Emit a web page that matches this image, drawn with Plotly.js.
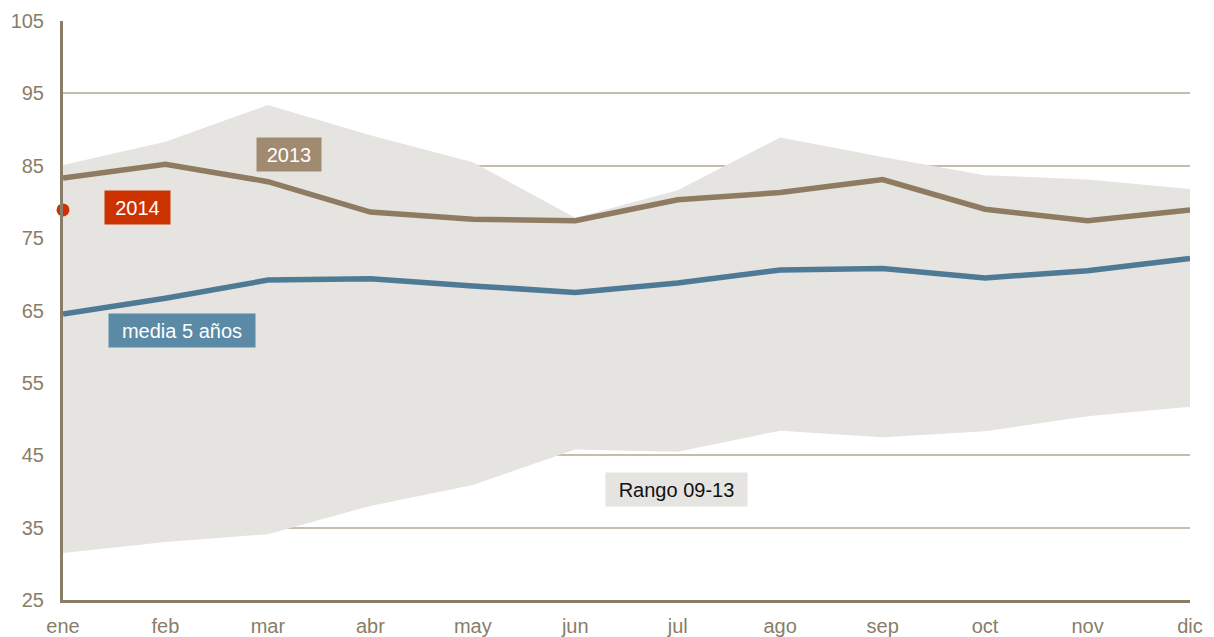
<!DOCTYPE html>
<html>
<head>
<meta charset="utf-8">
<script src="https://cdn.plot.ly/plotly-3.0.1.min.js"></script>
<style>html,body{margin:0;padding:0;background:#fff;}#chart{width:1214px;height:637px;}</style>
</head>
<body>
<div id="chart"></div>
<script>
const months = ["ene","feb","mar","abr","may","jun","jul","ago","sep","oct","nov","dic"];
const rangeMax = [85.1, 88.3, 93.4, 89.2, 85.5, 77.8, 81.6, 88.9, 86.2, 83.7, 83.1, 81.8];
const rangeMin = [31.5, 33.0, 34.1, 38.0, 40.9, 45.8, 45.5, 48.4, 47.5, 48.3, 50.4, 51.7];
const serie2013 = [83.3, 85.2, 82.8, 78.6, 77.6, 77.4, 80.3, 81.3, 83.1, 79.0, 77.4, 78.9];
const media5 = [64.5, 66.7, 69.2, 69.4, 68.4, 67.5, 68.8, 70.6, 70.8, 69.5, 70.5, 72.2];
const months2014 = ["ene"];
const serie2014 = [78.9];
const yTicks = [25, 35, 45, 55, 65, 75, 85, 95, 105];

const axisColor = "#8a7d68";
const font = "Liberation Sans, Arial, sans-serif";

const traces = [
  {x: months, y: rangeMin, type: "scatter", mode: "lines", line: {width: 0, color: "rgba(0,0,0,0)"}, hoverinfo: "skip", showlegend: false},
  {x: months, y: rangeMax, type: "scatter", mode: "lines", fill: "tonexty", fillcolor: "#e6e4e0", line: {width: 0, color: "rgba(0,0,0,0)"}, showlegend: false},
  {x: months, y: serie2013, type: "scatter", mode: "lines", line: {color: "#8f7b62", width: 5.5}, showlegend: false},
  {x: months, y: media5, type: "scatter", mode: "lines", line: {color: "#4e7a96", width: 5.5}, showlegend: false},
  {x: months2014, y: serie2014, type: "scatter", mode: "markers", marker: {color: "#cc3300", size: 13}, cliponaxis: false, showlegend: false}
];

function box(text, x, y, w, bg, fc) {
  return {text: text, x: x, y: y, xref: "x", yref: "y", showarrow: false,
    bgcolor: bg, width: w, height: 33, borderpad: 0,
    font: {family: font, size: 20, color: fc}, xanchor: "center", yanchor: "middle"};
}

const layout = {
  width: 1214, height: 637,
  margin: {l: 63, r: 24, t: 21, b: 37},
  paper_bgcolor: "#fff", plot_bgcolor: "#fff",
  font: {family: font, size: 20, color: axisColor},
  xaxis: {
    type: "category", categoryorder: "array", categoryarray: months,
    range: [0, 11], showgrid: false, zeroline: false,
    showline: true, linecolor: axisColor, linewidth: 3,
    ticks: "", ticklabelstandoff: 6, tickfont: {family: font, size: 20, color: axisColor},
    fixedrange: true
  },
  yaxis: {
    range: [25, 105], tickvals: yTicks, ticktext: yTicks.map(String),
    showgrid: true, gridcolor: "#c5bdae", gridwidth: 2,
    zeroline: false, showline: true, linecolor: axisColor, linewidth: 3,
    ticks: "", ticklabelstandoff: 12,
    tickfont: {family: font, size: 20, color: axisColor},
    fixedrange: true
  },
  annotations: [
    box("2013", 2.21, 86.6, 64, "#a08a70", "#ffffff"),
    box("2014", 0.727, 79.2, 65, "#cc3300", "#ffffff"),
    box("media 5 años", 1.16, 62.2, 146, "#5b8aa7", "#ffffff"),
    box("Rango 09-13", 5.985, 40.3, 141, "#e6e4e0", "#111111")
  ]
};

Plotly.newPlot("chart", traces, layout, {displayModeBar: false, staticPlot: true});
</script>
</body>
</html>
